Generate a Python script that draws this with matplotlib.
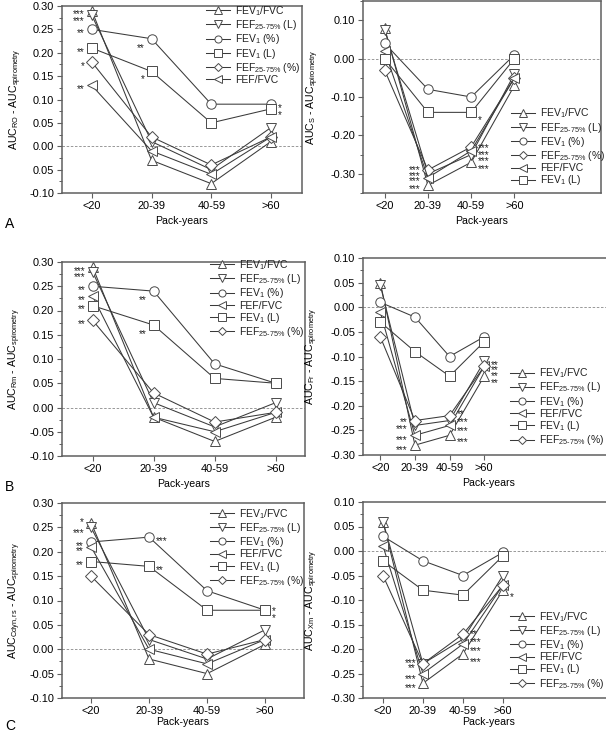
import numpy as np
import matplotlib
matplotlib.use("Agg")
import matplotlib.pyplot as plt
from matplotlib.ticker import MultipleLocator, FixedLocator, FixedFormatter

plt.rcParams['font.family'] = ['Liberation Sans', 'DejaVu Sans']
plt.rcParams['mathtext.fontset'] = 'custom'
plt.rcParams['mathtext.rm'] = 'Liberation Sans'
plt.rcParams['mathtext.it'] = 'Liberation Sans:italic'
plt.rcParams['mathtext.bf'] = 'Liberation Sans:bold'
plt.rcParams['mathtext.default'] = 'regular'

# ---- data ----
groups = ["<20", "20-39", "40-59", ">60"]

labels = {
    "up": r"FEV$_{1}$/FVC",
    "down": r"FEF$_{25\text{-}75\%}$ (L)",
    "circ": r"FEV$_{1}$ (%)",
    "sq": r"FEV$_{1}$ (L)",
    "dia": r"FEF$_{25\text{-}75\%}$ (%)",
    "left": "FEF/FVC",
}
markers = {"up": "^", "down": "v", "circ": "o", "sq": "s", "dia": "D", "left": "<"}

# A left: AUC_RO
ro_up = [0.29, -0.03, -0.08, 0.01]
ro_down = [0.28, 0.01, -0.05, 0.04]
ro_circ = [0.25, 0.23, 0.09, 0.09]
ro_sq = [0.21, 0.16, 0.05, 0.08]
ro_dia = [0.18, 0.02, -0.04, 0.02]
ro_left = [0.13, -0.01, -0.06, 0.02]

# A right: AUC_S
s_up = [0.08, -0.33, -0.27, -0.07]
s_down = [0.075, -0.30, -0.25, -0.04]
s_circ = [0.04, -0.08, -0.10, 0.01]
s_dia = [-0.03, -0.29, -0.23, -0.05]
s_left = [0.02, -0.31, -0.24, -0.05]
s_sq = [0.00, -0.14, -0.14, 0.00]

# B left: AUC_Rm
rm_up = [0.29, -0.02, -0.07, -0.02]
rm_down = [0.28, 0.01, -0.04, 0.01]
rm_circ = [0.25, 0.24, 0.09, 0.05]
rm_left = [0.23, -0.02, -0.05, -0.01]
rm_sq = [0.21, 0.17, 0.06, 0.05]
rm_dia = [0.18, 0.03, -0.03, -0.01]

# B right: AUC_Fr
fr_up = [0.05, -0.28, -0.26, -0.14]
fr_down = [0.045, -0.24, -0.23, -0.11]
fr_circ = [0.01, -0.02, -0.10, -0.06]
fr_left = [-0.01, -0.26, -0.24, -0.12]
fr_sq = [-0.03, -0.09, -0.14, -0.07]
fr_dia = [-0.06, -0.23, -0.22, -0.12]

# C left: AUC_Cdyn,rs
cd_up = [0.26, -0.02, -0.05, 0.01]
cd_down = [0.25, 0.02, -0.02, 0.04]
cd_circ = [0.22, 0.23, 0.12, 0.08]
cd_left = [0.21, 0.00, -0.03, 0.02]
cd_sq = [0.18, 0.17, 0.08, 0.08]
cd_dia = [0.15, 0.03, -0.01, 0.02]

# C right: AUC_Xm
xm_up = [0.06, -0.27, -0.21, -0.08]
xm_down = [0.06, -0.23, -0.18, -0.05]
xm_circ = [0.03, -0.02, -0.05, -0.003]
xm_left = [0.01, -0.25, -0.19, -0.07]
xm_sq = [-0.02, -0.08, -0.09, -0.01]
xm_dia = [-0.05, -0.23, -0.17, -0.07]

# significance marks: (series, group index, text, side, dy in points)
ro_stars = [("up", 0, "***", "l", 0), ("down", 0, "***", "l", -1), ("circ", 0, "**", "l", 0),
            ("sq", 0, "**", "l", 0), ("dia", 0, "*", "l", 0), ("left", 0, "**", "l", 0),
            ("circ", 1, "**", "l", -4), ("sq", 1, "*", "l", -3),
            ("circ", 3, "*", "r", 0), ("sq", 3, "*", "r", -2)]
s_stars = [("dia", 1, "***", "l", 3), ("down", 1, "***", "l", 1), ("left", 1, "***", "l", 0),
           ("up", 1, "***", "l", 0), ("dia", 2, "***", "r", 2), ("left", 2, "***", "r", 0),
           ("down", 2, "***", "r", -2), ("up", 2, "***", "r", -2), ("sq", 2, "*", "r", -3)]
rm_stars = [("up", 0, "***", "l", 0), ("down", 0, "***", "l", -1), ("circ", 0, "**", "l", 0),
            ("left", 0, "**", "l", 0), ("sq", 0, "**", "l", 0), ("dia", 0, "**", "l", 0),
            ("circ", 1, "**", "l", -4), ("sq", 1, "**", "l", -4)]
fr_stars = [("dia", 1, "**", "l", 2), ("down", 1, "***", "l", 0), ("left", 1, "***", "l", -1),
            ("up", 1, "***", "l", -1), ("dia", 2, "**", "r", 4), ("down", 2, "***", "r", 2),
            ("left", 2, "***", "r", -1), ("up", 2, "***", "r", -2),
            ("down", 3, "**", "r", 0), ("left", 3, "**", "r", 0), ("dia", 3, "**", "r", -4),
            ("up", 3, "**", "r", -2)]
cd_stars = [("up", 0, "*", "l", 3), ("down", 0, "***", "l", -1), ("circ", 0, "**", "l", 0),
            ("left", 0, "**", "l", 0), ("sq", 0, "**", "l", 0),
            ("circ", 1, "***", "r", 0), ("sq", 1, "**", "r", 0),
            ("circ", 3, "*", "r", 2), ("sq", 3, "*", "r", -3)]
xm_stars = [("dia", 1, "***", "l", 3), ("down", 1, "**", "l", 0), ("left", 1, "***", "l", -1),
            ("up", 1, "***", "l", -1), ("dia", 2, "**", "r", 3), ("down", 2, "***", "r", 1),
            ("left", 2, "***", "r", -2), ("up", 2, "***", "r", -3), ("up", 3, "*", "r", -2)]

LINE = "#3a3a3a"
EDGE = "#4a4a4a"
SPINE = "#5f5f5f"

fig = plt.figure(figsize=(6.06, 7.36), dpi=100)
W, H = 606.0, 736.0


def px_axes(x0, x1, ytop, ybot):
    return fig.add_axes([x0 / W, 1 - ybot / H, (x1 - x0) / W, (ybot - ytop) / H])


def panel(ax, series, order, stars, ylab, ylim, major, minor, xmax, leg_anchor, ylabx, xlabpad,
          yticklabels=None):
    x = np.arange(len(groups))
    ax.axhline(0, color="#888888", lw=0.6, ls=(0, (3, 2)), zorder=1)
    handles = {}
    for key in order:
        h, = ax.plot(x, series[key], color=LINE, lw=0.75, marker=markers[key],
                     ms=6.8 if key != "dia" else 5.8, mfc="white", mec=EDGE, mew=0.7,
                     label=labels[key], zorder=3)
        handles[key] = h
    for key, gi, txt, side, dy in stars:
        dx = -5 if side == "l" else 5
        ax.annotate(txt, (x[gi], series[key][gi]), xytext=(dx, dy - 2.8),
                    textcoords="offset points", ha="right" if side == "l" else "left",
                    va="center", fontsize=7.2, color="#222222", zorder=4)
    ax.set_xlim(-0.5, xmax)
    ax.set_ylim(*ylim)
    ax.set_xticks(x)
    ax.set_xticklabels(groups)
    ax.yaxis.set_major_locator(MultipleLocator(major))
    ax.yaxis.set_minor_locator(MultipleLocator(minor))
    if yticklabels is not None:
        ticks = np.arange(ylim[0], ylim[1] + 1e-9, major)
        ax.yaxis.set_major_locator(FixedLocator(ticks))
        ax.yaxis.set_major_formatter(FixedFormatter(yticklabels))
    else:
        ax.yaxis.set_major_formatter(plt.FuncFormatter(lambda v, p: "%.2f" % v))
    ax.tick_params(axis="both", which="major", direction="out", length=3.5, width=0.8,
                   color=SPINE, labelsize=7.9, pad=2)
    ax.tick_params(axis="y", which="minor", direction="out", length=2, width=0.7, color=SPINE)
    for s in ax.spines.values():
        s.set_color(SPINE)
        s.set_linewidth(1.1)
    ax.set_xlabel("Pack-years", fontsize=7.6, labelpad=xlabpad)
    ax.set_ylabel(r"AUC$_{%s}$ - AUC$_{spirometry}$" % ylab, fontsize=7.6)
    ax.yaxis.set_label_coords(ylabx, 0.5)
    leg = ax.legend(handles=[handles[k] for k in order], loc="upper left",
                    bbox_to_anchor=leg_anchor, frameon=False, fontsize=7.5,
                    handlelength=2.3, handletextpad=0.5, labelspacing=0.02,
                    borderpad=0, borderaxespad=0, markerscale=0.75)
    for t in leg.get_texts():
        t.set_color("#222222")


# A left
ax = px_axes(62, 302, 6, 193)
panel(ax, {"up": ro_up, "down": ro_down, "circ": ro_circ, "sq": ro_sq, "dia": ro_dia, "left": ro_left},
      ["up", "down", "circ", "sq", "dia", "left"], ro_stars, r"RO", (-0.10, 0.30), 0.05, 0.025,
      3.52, (0.60, 1.01), -0.16, 4,
      yticklabels=["-0.10", "0.05", "0.00", "0.05", "0.10", "0.15", "0.20", "0.25", "0.30"])

# A right
ax = px_axes(363, 601, 1, 193)
panel(ax, {"up": s_up, "down": s_down, "circ": s_circ, "sq": s_sq, "dia": s_dia, "left": s_left},
      ["up", "down", "circ", "dia", "left", "sq"], s_stars, r"S", (-0.35, 0.15), 0.10, 0.05,
      5.0, (0.62, 0.45), -0.175, 4)

# B left
ax = px_axes(62, 305, 262, 456)
panel(ax, {"up": rm_up, "down": rm_down, "circ": rm_circ, "sq": rm_sq, "dia": rm_dia, "left": rm_left},
      ["up", "down", "circ", "left", "sq", "dia"], rm_stars, r"Rm", (-0.10, 0.30), 0.05, 0.025,
      3.48, (0.61, 1.02), -0.16, 4)

# B right
ax = px_axes(363, 614, 258, 455)
panel(ax, {"up": fr_up, "down": fr_down, "circ": fr_circ, "sq": fr_sq, "dia": fr_dia, "left": fr_left},
      ["up", "down", "circ", "left", "sq", "dia"], fr_stars, r"Fr", (-0.30, 0.10), 0.05, 0.025,
      6.75, (0.585, 0.45), -0.17, 4)

# C left
ax = px_axes(62, 304, 503, 698)
panel(ax, {"up": cd_up, "down": cd_down, "circ": cd_circ, "sq": cd_sq, "dia": cd_dia, "left": cd_left},
      ["up", "down", "circ", "left", "sq", "dia"], cd_stars, r"Cdyn,rs", (-0.10, 0.30), 0.05, 0.025,
      3.67, (0.61, 0.98), -0.16, 1)

# C right
ax = px_axes(363, 614, 502, 698)
panel(ax, {"up": xm_up, "down": xm_down, "circ": xm_circ, "sq": xm_sq, "dia": xm_dia, "left": xm_left},
      ["up", "down", "circ", "left", "sq", "dia"], xm_stars, r"Xm", (-0.30, 0.10), 0.05, 0.025,
      5.78, (0.585, 0.45), -0.17, 1)

for letter, ypx in [("A", 224), ("B", 487), ("C", 726)]:
    fig.text(5 / W, 1 - ypx / H, letter, fontsize=10, ha="left", va="center")

fig.savefig("out.png", dpi=100)
